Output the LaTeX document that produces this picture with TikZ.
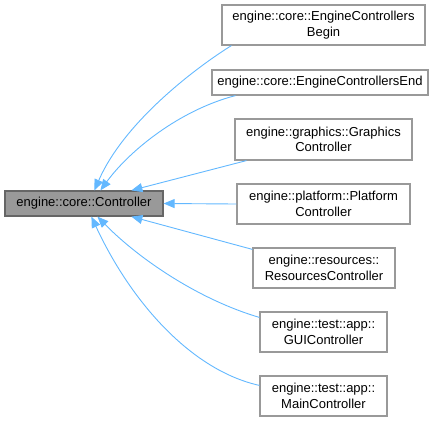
\documentclass[tikz,border=0pt]{standalone}
\usepackage{fontspec}
\setmainfont{Liberation Sans}
\usetikzlibrary{arrows.meta}
\definecolor{edgeblue}{HTML}{63B8FF}
\definecolor{boxgray}{HTML}{999999}
\definecolor{darkborder}{HTML}{666666}
\tikzset{
  cls/.style={draw=boxgray, fill=white, line width=1.2pt, inner sep=0pt, align=center,
    font=\fontsize{13}{15.5}\selectfont, text=black},
  basecls/.style={draw=darkborder, fill=boxgray, line width=1.2pt, inner sep=0pt, align=center,
    font=\fontsize{13}{15.5}\selectfont, text=black},
  inh/.style={draw=edgeblue, line width=0.9pt, -{Triangle[length=11pt,width=9pt]}},
}
\begin{document}
\begin{tikzpicture}[x=1pt,y=-1pt]
\useasboundingbox (0,0) rectangle (443,421);
\node[basecls, minimum width=158pt, minimum height=25pt] (ctrl) at (84,203.5) {engine::core::Controller};
\node[cls, minimum width=203pt, minimum height=40pt] (b1) at (323.5,25) {engine::core::EngineControllers\\Begin};
\node[cls, minimum width=216pt, minimum height=25pt] (b2) at (320,82.5) {engine::core::EngineControllersEnd};
\node[cls, minimum width=177pt, minimum height=41pt] (b3) at (323.5,139.5) {engine::graphics::Graphics\\Controller};
\node[cls, minimum width=173pt, minimum height=40pt] (b4) at (323.5,204) {engine::platform::Platform\\Controller};
\node[cls, minimum width=142pt, minimum height=40pt] (b5) at (324,268) {engine::resources::\\ResourcesController};
\node[cls, minimum width=127pt, minimum height=40pt] (b6) at (323.5,332) {engine::test::app::\\GUIController};
\node[cls, minimum width=127pt, minimum height=40pt] (b7) at (323.5,396) {engine::test::app::\\MainController};

\draw[inh] ([xshift=10pt]b1.south west) .. controls (200,65) and (125,120) .. ([xshift=90pt]ctrl.north west);
\draw[inh] ([xshift=24pt]b2.south west) .. controls (180,110) and (130,150) .. ([xshift=96pt]ctrl.north west);
\draw[inh] ([xshift=12pt]b3.south west) -- ([xshift=127pt]ctrl.north west);
\draw[inh] (b4.west) -- (ctrl.east);
\draw[inh] ([yshift=-2pt]b5.north west) -- ([xshift=127pt]ctrl.south west);
\draw[inh] ([yshift=-6pt]b6.north west) .. controls (200,300) and (140,260) .. ([xshift=93pt]ctrl.south west);
\draw[inh] ([yshift=-10pt]b7.north west) .. controls (190,370) and (130,300) .. ([xshift=87pt]ctrl.south west);
\end{tikzpicture}
\end{document}
